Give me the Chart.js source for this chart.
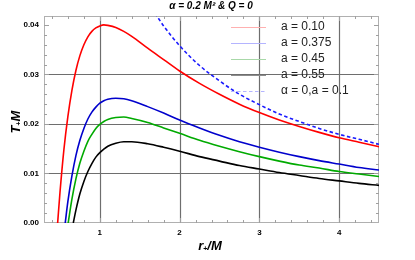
<!DOCTYPE html>
<html>
<head>
<meta charset="utf-8">
<script src="https://cdn.jsdelivr.net/npm/chart.js@4.4.1/dist/chart.umd.min.js"></script>
<style>
html,body{margin:0;padding:0;background:#fff;}
canvas{display:block;}
</style>
</head>
<body>
<canvas id="c" width="415" height="260"></canvas>
<script>
// ---- data ----
const titleText = "\u03B1 = 0.2 M\u00B2 & Q = 0";
const legendLabels = ["a = 0.10", "a = 0.375", "a = 0.45", "a = 0.55", "\u03B1 = 0,a = 0.1"];

const rRed = [0.471,0.50,0.55,0.60,0.65,0.70,0.75,0.80,0.85,0.90,0.95,1.0,1.05,1.1,1.2,1.3,1.4,1.6,1.8,2.0,2.25,2.5,2.75,3.0,3.25,3.5,3.75,4.0,4.25,4.5];
const tRed = [0.0,0.0061,0.0149,0.0216,0.0268,0.0308,0.0338,0.0360,0.0376,0.0387,0.0394,0.0398,0.04,0.0399,0.0395,0.0387,0.0377,0.0353,0.0330,0.0307,0.0282,0.0260,0.0240,0.0223,0.0208,0.0195,0.0183,0.0172,0.0163,0.0154];

const rBlue = [0.566,0.60,0.65,0.70,0.75,0.80,0.85,0.90,0.95,1.0,1.05,1.1,1.2,1.3,1.4,1.6,1.8,2.0,2.25,2.5,2.75,3.0,3.25,3.5,3.75,4.0,4.25,4.5];
const tBlue = [0.0,0.0044,0.0095,0.0136,0.0167,0.0191,0.0210,0.0224,0.0234,0.0242,0.0247,0.0250,0.0252,0.0251,0.0247,0.0235,0.0222,0.0208,0.0192,0.0177,0.0164,0.0153,0.0143,0.0134,0.0126,0.0119,0.0112,0.0107];

const rGreen = [0.603,0.65,0.70,0.75,0.80,0.85,0.90,0.95,1.0,1.05,1.1,1.2,1.3,1.4,1.6,1.8,2.0,2.25,2.5,2.75,3.0,3.25,3.5,3.75,4.0,4.25,4.5];
const tGreen = [0.0,0.0048,0.0089,0.0121,0.0145,0.0165,0.0179,0.0191,0.0199,0.0205,0.0209,0.0213,0.0214,0.0211,0.0203,0.0192,0.0181,0.0167,0.0155,0.0144,0.0134,0.0125,0.0117,0.0111,0.0104,0.0099,0.0094];

const rBlack = [0.667,0.70,0.75,0.80,0.85,0.90,0.95,1.0,1.05,1.1,1.2,1.3,1.4,1.6,1.8,2.0,2.25,2.5,2.75,3.0,3.25,3.5,3.75,4.0,4.25,4.5];
const tBlack = [0.0,0.0026,0.0059,0.0084,0.0104,0.0120,0.0133,0.0142,0.0149,0.0155,0.0161,0.0164,0.0164,0.0160,0.0153,0.0145,0.0134,0.0125,0.0116,0.0109,0.0102,0.0096,0.0090,0.0085,0.0080,0.0076];

const rDash = [1.65,1.8,2.0,2.25,2.5,2.75,3.0,3.25,3.5,3.75,4.0,4.25,4.5];
const tDash = [0.0434,0.0398,0.0358,0.0318,0.0287,0.0260,0.0239,0.0220,0.0205,0.0191,0.0179,0.0169,0.0159];

const xTicks = [1,2,3,4];
const yTicks = [0.00,0.01,0.02,0.03,0.04];
const xGrid = [1,2,3,4];
const yGrid = [0.01,0.02,0.03];

// ---- styles ----
const colors = ["#ff0000","#0000cc","#00aa00","#000000","#1a1aff"];
const legendColors = ["#ffb0b0","#b4b4ff","#a8d8a8","#8c8c8c","#b4b4ff"];

function pts(rs, ts){ return rs.map((r,i)=>({x:r,y:ts[i]})); }

const series = [[rRed,tRed],[rBlue,tBlue],[rGreen,tGreen],[rBlack,tBlack],[rDash,tDash]];
const datasets = series.map((s,i)=>({
  label: legendLabels[i],
  data: pts(s[0],s[1]),
  showLine: true,
  borderColor: colors[i],
  borderWidth: 1.6,
  pointRadius: 0,
  fill: false,
  cubicInterpolationMode: 'monotone',
  borderDash: i===4 ? [3.5,2.5] : []
}));

const frame = {
  id:'frame',
  beforeDatasetsDraw(chart){
    const {ctx, chartArea:a, scales:{x,y}} = chart;
    ctx.save();
    ctx.strokeStyle = '#6e6e6e';
    ctx.lineWidth = 1.2;
    xGrid.forEach(v=>{ const px = Math.round(x.getPixelForValue(v))+0.5;
      ctx.beginPath(); ctx.moveTo(px,a.top); ctx.lineTo(px,a.bottom); ctx.stroke(); });
    yGrid.forEach(v=>{ const py = Math.round(y.getPixelForValue(v))+0.5;
      ctx.beginPath(); ctx.moveTo(a.left,py); ctx.lineTo(a.right,py); ctx.stroke(); });
    ctx.strokeStyle = '#b0b0b0';
    ctx.lineWidth = 1;
    ctx.strokeRect(a.left+0.5, a.top+0.5, a.right-a.left-1, a.bottom-a.top-1);
    ctx.strokeStyle = '#a0a0a0';
    for(let k=2;k<=22;k++){
      const v=k*0.2; if(v<0.3||v>4.5) continue;
      const major = Math.abs(v-Math.round(v))<1e-6;
      const L = major?5:3;
      const px = Math.round(x.getPixelForValue(v))+0.5;
      ctx.beginPath(); ctx.moveTo(px,a.bottom); ctx.lineTo(px,a.bottom-L);
      ctx.moveTo(px,a.top); ctx.lineTo(px,a.top+L); ctx.stroke();
    }
    for(let k=0;k<=21;k++){
      const v=k*0.002;
      const major = k%5===0;
      const L = major?5:3;
      const py = Math.round(y.getPixelForValue(v))+0.5;
      if(py<a.top||py>a.bottom) continue;
      ctx.beginPath(); ctx.moveTo(a.left,py); ctx.lineTo(a.left+L,py);
      ctx.moveTo(a.right,py); ctx.lineTo(a.right-L,py); ctx.stroke();
    }
    ctx.restore();
  },
  afterDraw(chart){
    const {ctx} = chart;
    ctx.save();
    ctx.fillStyle = '#000';
    ctx.font = 'bold italic 10px "Liberation Sans", Arial, sans-serif';
    ctx.textAlign = 'center'; ctx.textBaseline = 'middle';
    ctx.fillText(titleText, 211, 6);
    const big = 'bold italic 13px "Liberation Sans", Arial, sans-serif';
    const sub = 'bold 7px "Liberation Sans", Arial, sans-serif';
    ctx.textAlign = 'left';
    ctx.font = big;
    const w1 = ctx.measureText('r').width, w3 = ctx.measureText('/M').width;
    ctx.font = sub;
    const w2 = ctx.measureText('+').width;
    let x0 = 210 - (w1+w2+w3)/2;
    ctx.font = big; ctx.fillText('r', x0, 246);
    ctx.font = sub; ctx.fillText('+', x0+w1, 249);
    ctx.font = big; ctx.fillText('/M', x0+w1+w2, 246);
    ctx.translate(16,122);
    ctx.rotate(-Math.PI/2);
    ctx.font = big;
    const v1 = ctx.measureText('T').width, v3 = ctx.measureText('M').width;
    ctx.font = sub;
    const v2 = ctx.measureText('+').width;
    let y0 = -(v1+v2+v3)/2;
    ctx.font = big; ctx.fillText('T', y0, 0);
    ctx.font = sub; ctx.fillText('+', y0+v1, 3);
    ctx.font = big; ctx.fillText('M', y0+v1+v2, 0);
    ctx.restore();

    ctx.save();
    ctx.font = '12px "Liberation Sans", Arial, sans-serif';
    ctx.textBaseline = 'middle'; ctx.textAlign = 'left';
    const ys = [27,43,59,75,91];
    legendLabels.forEach((t,i)=>{
      ctx.strokeStyle = legendColors[i];
      ctx.lineWidth = 1.2;
      ctx.setLineDash(i===4?[3.5,2.5]:[]);
      ctx.beginPath(); ctx.moveTo(231,ys[i]+0.5); ctx.lineTo(266,ys[i]+0.5); ctx.stroke();
      ctx.setLineDash([]);
      ctx.fillStyle = '#222';
      ctx.fillText(t, 281, ys[i]);
    });
    ctx.restore();
  }
};

new Chart(document.getElementById('c'), {
  type: 'scatter',
  data: { datasets },
  options: {
    responsive: false,
    animation: false,
    devicePixelRatio: 1,
    layout: { padding: { top: 16, right: 36, left: 0, bottom: 0 } },
    plugins: { legend: { display: false }, title: { display: false }, tooltip: { enabled: false } },
    scales: {
      x: {
        type: 'linear', min: 0.3, max: 4.5,
        afterFit(s){ s.height = 37; },
        afterBuildTicks(s){ s.ticks = xTicks.map(v=>({value:v})); },
        grid: { display: false, drawTicks: false },
        border: { display: false },
        ticks: { padding: 5, color: '#000', font: { family: '"Liberation Sans", Arial, sans-serif', size: 8, weight: 'bold' }, maxRotation: 0,
          callback: v => String(v) }
      },
      y: {
        type: 'linear', min: 0, max: 0.0418,
        afterFit(s){ s.width = 44; },
        afterBuildTicks(s){ s.ticks = yTicks.map(v=>({value:v})); },
        grid: { display: false, drawTicks: false },
        border: { display: false },
        ticks: { padding: 5, color: '#000', font: { family: '"Liberation Sans", Arial, sans-serif', size: 8, weight: 'bold' },
          callback: v => v.toFixed(2) }
      }
    }
  },
  plugins: [frame]
});
</script>
</body>
</html>
